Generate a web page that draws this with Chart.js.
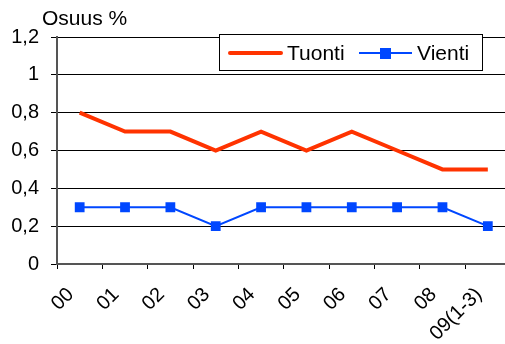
<!DOCTYPE html>
<html>
<head>
<meta charset="utf-8">
<script src="https://cdn.jsdelivr.net/npm/chart.js@4"></script>
<style>
  html, body { margin: 0; padding: 0; background: #fff; overflow: hidden; }
  canvas { display: block; }
</style>
</head>
<body>
<canvas id="chart" width="518" height="344"></canvas>
<script>
const years = ["00", "01", "02", "03", "04", "05", "06", "07", "08", "09(1-3)"];
const tuonti = [0.8, 0.7, 0.7, 0.6, 0.7, 0.6, 0.7, 0.6, 0.5, 0.5];
const vienti = [0.3, 0.3, 0.3, 0.2, 0.3, 0.3, 0.3, 0.3, 0.3, 0.2];
const yTicks = [0, 0.2, 0.4, 0.6, 0.8, 1, 1.2];

const FONT = "'Liberation Sans', Arial, sans-serif";
const RED = "#ff3300";
const BLUE = "#0047ff";

// otsikko ja selite piirretään itse
const extras = {
  id: "extras",
  afterDraw(chart) {
    const ctx = chart.ctx;
    const area = chart.chartArea;
    ctx.save();
    ctx.fillStyle = "#000";
    ctx.font = "21px " + FONT;
    ctx.textBaseline = "alphabetic";
    ctx.textAlign = "left";
    ctx.fillText("Osuus %", area.left - 15, 25);

    // selite
    const bx = 219, by = 34, bw = 263, bh = 36;
    ctx.fillStyle = "#fff";
    ctx.fillRect(bx, by, bw, bh);
    ctx.strokeStyle = "#000";
    ctx.lineWidth = 1;
    ctx.strokeRect(bx + 0.5, by + 0.5, bw, bh);
    const my = by + bh / 2 + 1;
    const ds = chart.data.datasets;

    ctx.strokeStyle = ds[0].borderColor;
    ctx.lineWidth = ds[0].borderWidth;
    ctx.lineCap = "round";
    ctx.beginPath();
    ctx.moveTo(230, my);
    ctx.lineTo(281, my);
    ctx.stroke();
    ctx.fillStyle = "#000";
    ctx.textBaseline = "middle";
    ctx.fillText(ds[0].label, 287, my + 1);

    ctx.strokeStyle = ds[1].borderColor;
    ctx.lineWidth = ds[1].borderWidth;
    ctx.lineCap = "butt";
    ctx.beginPath();
    ctx.moveTo(359, my);
    ctx.lineTo(412, my);
    ctx.stroke();
    ctx.fillStyle = ds[1].pointBackgroundColor;
    ctx.fillRect(380, my - 5, 11, 11);
    ctx.fillStyle = "#000";
    ctx.fillText(ds[1].label, 417, my + 1);
    ctx.restore();
  }
};

new Chart(document.getElementById("chart"), {
  type: "line",
  data: {
    labels: years,
    datasets: [
      {
        label: "Tuonti",
        data: tuonti,
        borderColor: RED,
        backgroundColor: RED,
        borderWidth: 4,
        pointRadius: 0,
        tension: 0,
      },
      {
        label: "Vienti",
        data: vienti,
        borderColor: BLUE,
        backgroundColor: BLUE,
        pointBackgroundColor: BLUE,
        pointBorderColor: BLUE,
        borderWidth: 2,
        pointStyle: "rect",
        pointRadius: 5.5,
        tension: 0,
      },
    ],
  },
  options: {
    responsive: false,
    animation: false,
    layout: { padding: { top: 37, right: 0, left: 0, bottom: 0 } },
    plugins: {
      legend: { display: false },
      tooltip: { enabled: false },
    },
    scales: {
      x: {
        offset: true,
        grid: {
          offset: true,
          drawOnChartArea: false,
          drawTicks: true,
          tickLength: 5,
          color: "#000",
        },
        border: { color: "#555", width: 2 },
        ticks: {
          color: "#000",
          font: { family: FONT, size: 20 },
          minRotation: 45,
          maxRotation: 45,
          autoSkip: false,
          padding: 14,
          labelOffset: -9,
        },
        afterFit: (axis) => {
          axis.height = 80;
          axis.paddingLeft = 0;
          axis.paddingRight = 0;
        },
      },
      y: {
        min: 0,
        max: 1.2,
        afterBuildTicks: (axis) => {
          axis.ticks = yTicks.map((v) => ({ value: v }));
        },
        grid: {
          color: "#000",
          lineWidth: 1,
          tickLength: 6,
        },
        border: { color: "#555", width: 2 },
        ticks: {
          color: "#000",
          font: { family: FONT, size: 20 },
          padding: 12,
          callback: (val) => String(Math.round(val * 10) / 10).replace(".", ","),
        },
        afterFit: (axis) => { axis.width = 57; },
      },
    },
  },
  plugins: [extras],
});
</script>
</body>
</html>
